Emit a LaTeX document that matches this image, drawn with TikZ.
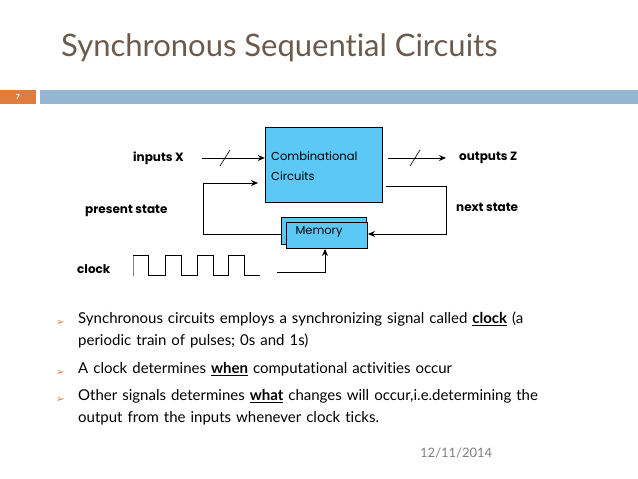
\documentclass[tikz,border=0pt]{standalone}
\usepackage{fontspec}
\setmainfont{Lato}[Ligatures=NoCommon]
\newfontfamily\popf{Poppins}
\newfontfamily\djvf{DejaVu Sans}
\usetikzlibrary{arrows.meta}
\definecolor{titlec}{HTML}{6B5A4E}
\definecolor{orng}{HTML}{E07C3E}
\definecolor{barb}{HTML}{94B6D2}
\definecolor{boxb}{HTML}{5BC8F5}
\tikzset{
 lbl/.style={font=\popf\fontsize{12}{14}\selectfont\bfseries, anchor=west, inner sep=0},
 wire/.style={line width=1pt, -{Stealth[length=7pt,width=6pt]}},
 plain/.style={line width=1pt},
 blt/.style={anchor=west, font=\djvf\fontsize{10}{11}\selectfont, text=orng, inner sep=0},
 btxt/.style={anchor=north west, font=\fontsize{15}{22}\selectfont, align=left, inner sep=0, text width=540pt}
}
\begin{document}
\begin{tikzpicture}[x=1pt,y=-1pt]
\useasboundingbox (0,0) rectangle (638,479);
\node[anchor=west, inner sep=0, text=titlec, font=\fontsize{31}{36}\selectfont] (title) at (61,48) {Synchronous Sequential Circuits};
\fill[orng] (0,90) rectangle (36,104);
\node[text=white, font=\bfseries\fontsize{7}{8}\selectfont] (num) at (18,97) {7};
\fill[barb] (40,90) rectangle (638,104);
% combinational
\node[draw=black, fill=boxb, minimum width=117pt, minimum height=75pt, inner sep=0] (comb) at (323.5,164.5) {};
\node[anchor=north west, inner sep=0, align=left, font=\popf\fontsize{11.5}{20}\selectfont] (ctext) at (271,152) {Combinational\\Circuits};
% memory
\draw[fill=boxb] (281,217) rectangle (366,244);
\node[draw=black, fill=boxb, minimum width=81pt, minimum height=26pt, inner sep=0, anchor=north west] (mem) at (286,222) {};
\node[font=\popf\fontsize{11.5}{13}\selectfont] (mtext) at (319,232) {Memory};
% labels
\node[lbl] (inx) at (133,158) {inputs X};
\node[lbl] (outz) at (459,158) {outputs Z};
\node[lbl] (ps) at (85,211) {present state};
\node[lbl] (ns) at (456,207) {next state};
\node[lbl] (clk) at (77,269) {clock};
\coordinate (a1) at (202,158);
\coordinate (b1) at (388,158);
\coordinate (b2) at (446,158);
\draw[wire] (a1) -- (comb.west |- a1);
\draw[line width=0.6pt] (220,166) -- (230,150);
\draw[wire] (b1) -- (b2);
\draw[line width=0.6pt] (410,166) -- (420,150);
\coordinate (fb1) at (386,186);
\draw[wire] (fb1) -- (446,186) -- (446,234) -- (368,234);
\draw[wire] (281,234) -- (203,234) -- (203,183) -- (258,183);
\coordinate (ck) at (277,272);
\draw[wire] (ck) -- (325,272) -- (325,249);
% waveform
\draw[gray, line width=1pt] (133,255) -- (133,276);
\draw[plain] (133,255) -- (148,255) -- (148,275) -- (165,275) -- (165,255) -- (181,255) -- (181,275) -- (197,275) -- (197,255) -- (213,255) -- (213,275) -- (228,275) -- (228,255) -- (244,255) -- (244,275) -- (260,275);
% bullets
\foreach \y/\n in {323/b1,373/b2,400/b3} \node[blt] (\n) at (56,\y) {➢};
\node[btxt] (t1) at (78,312) {Synchronous circuits employs a synchronizing signal called \textbf{\underline{clock}} (a\\periodic train of pulses; 0s and 1s)};
\node[btxt] (t2) at (78,362) {A clock determines \textbf{\underline{when}} computational activities occur};
\node[btxt] (t3) at (78,389) {Other signals determines \textbf{\underline{what}} changes will occur,i.e.determining the\\output from the inputs whenever clock ticks.};
\node[anchor=west, inner sep=0, text=gray, font=\fontsize{13}{14}\selectfont] (date) at (420,453) {12/11/2014};
\end{tikzpicture}
\end{document}
